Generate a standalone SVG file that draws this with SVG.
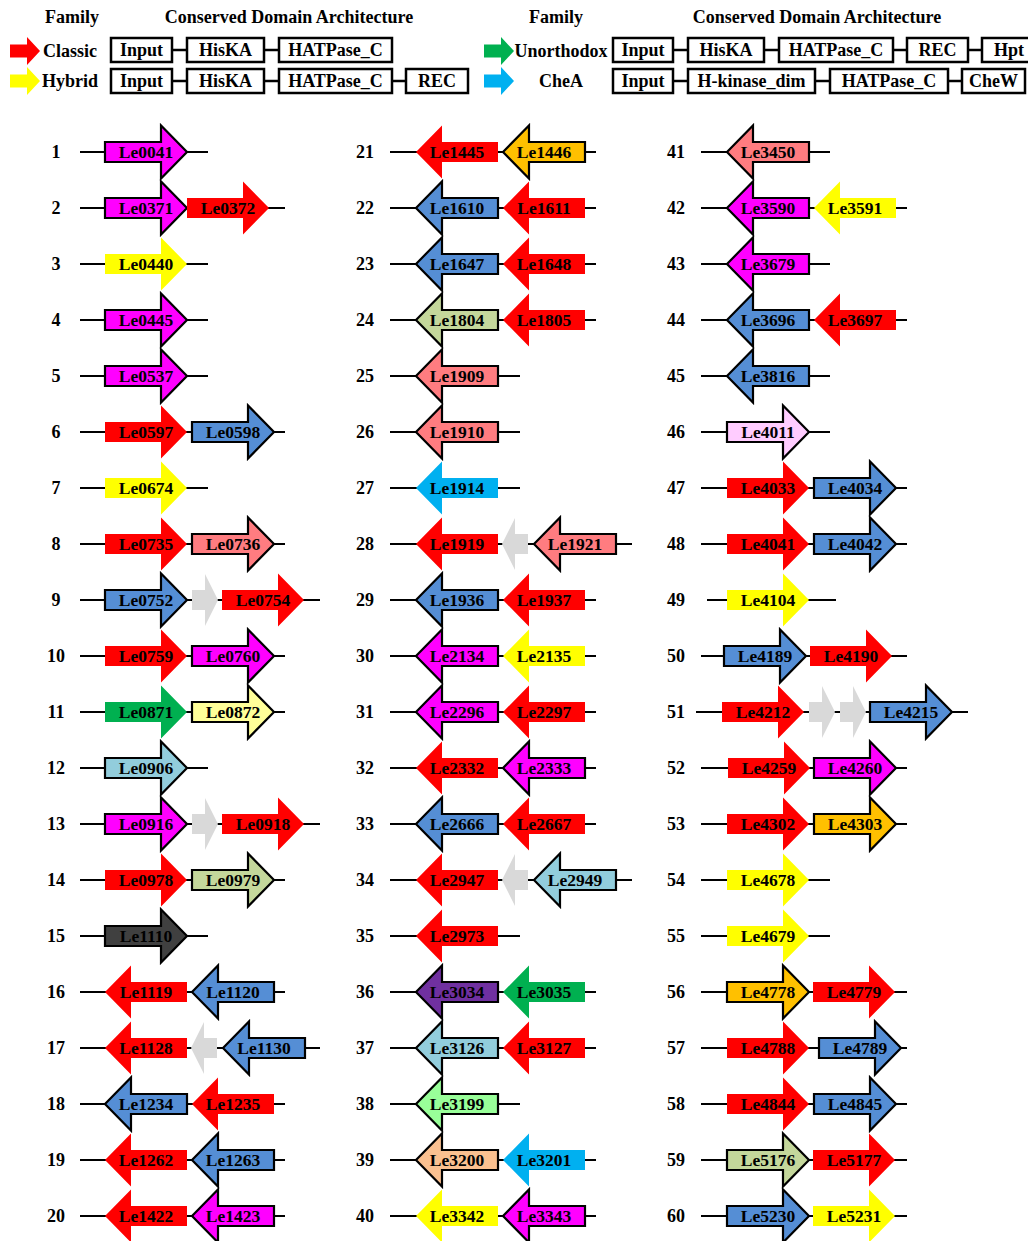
<svg xmlns="http://www.w3.org/2000/svg" xmlns:xlink="http://www.w3.org/1999/xlink" width="1028" height="1241" viewBox="0 0 1028 1241">
<style>
text{font-family:"Liberation Serif","Times New Roman",serif;font-weight:bold;fill:#000}
.h{font-size:18px;text-anchor:middle}
.n{font-size:18px;text-anchor:middle}
.l{font-size:17.5px;text-anchor:middle}
.bx{fill:#fff;stroke:#000;stroke-width:2.5}
.cn line{stroke:#000;stroke-width:2.2}
.s{stroke:#000;stroke-width:2.2;stroke-linejoin:miter}
.r{fill:#ff0000}.y{fill:#ffff00}.g{fill:#00b050}.c{fill:#00b0f0}.gy{fill:#d9d9d9}
.m{fill:#ff00ff}.b{fill:#558ed5}.sa{fill:#ff7c80}.ly{fill:#ffff99}.lb{fill:#92cddc}.ol{fill:#c4d79b}
.dk{fill:#404040}.or{fill:#ffc000}.pu{fill:#7030a0}.lg{fill:#99ff99}.pe{fill:#fac090}.pk{fill:#ffccff}
</style>
<defs>
<path id="ar" d="M0,-10 H56 V-26.5 L82,0 L56,26.5 V10 H0 Z"/>
<path id="al" d="M0,0 L26,-26.5 V-10 H82 V10 H26 V26.5 Z"/>
<path id="gr" d="M0,-10 H13 V-26 L26,0 L13,26 V10 H0 Z"/>
<path id="gl" d="M0,0 L13,-26 V-10 H26 V10 H13 V26 Z"/>
<path id="lg" d="M0,-6.5 H17 V-14 L30,0 L17,14 V6.5 H0 Z"/>
</defs>

<g id="legend">
<text class="h" x="72" y="23">Family</text>
<text class="h" x="289" y="23">Conserved Domain Architecture</text>
<text class="h" x="556" y="23">Family</text>
<text class="h" x="817" y="23">Conserved Domain Architecture</text>
<g id="leg-classic"><use href="#lg" x="10" y="51" class="r"/><text class="h" x="70" y="57">Classic</text></g>
<g id="leg-hybrid"><use href="#lg" x="10" y="81" class="y"/><text class="h" x="70" y="87">Hybrid</text></g>
<g id="leg-unorthodox"><use href="#lg" x="484" y="51" class="g"/><text class="h" x="561" y="57">Unorthodox</text></g>
<g id="leg-chea"><use href="#lg" x="484" y="81" class="c"/><text class="h" x="561" y="87">CheA</text></g>
<g id="arch-classic">
<line x1="172" y1="50" x2="187" y2="50" stroke="#000" stroke-width="2.5"/>
<line x1="264" y1="50" x2="279" y2="50" stroke="#000" stroke-width="2.5"/>
<rect class="bx" x="111" y="38" width="61" height="24"/><text class="h" x="141.5" y="56">Input</text>
<rect class="bx" x="187" y="38" width="77" height="24"/><text class="h" x="225.5" y="56">HisKA</text>
<rect class="bx" x="279" y="38" width="113" height="24"/><text class="h" x="335.5" y="56">HATPase_C</text>
</g>
<g id="arch-hybrid">
<line x1="172" y1="81" x2="187" y2="81" stroke="#000" stroke-width="2.5"/>
<line x1="264" y1="81" x2="279" y2="81" stroke="#000" stroke-width="2.5"/>
<line x1="392" y1="81" x2="406" y2="81" stroke="#000" stroke-width="2.5"/>
<rect class="bx" x="111" y="69" width="61" height="24"/><text class="h" x="141.5" y="87">Input</text>
<rect class="bx" x="187" y="69" width="77" height="24"/><text class="h" x="225.5" y="87">HisKA</text>
<rect class="bx" x="279" y="69" width="113" height="24"/><text class="h" x="335.5" y="87">HATPase_C</text>
<rect class="bx" x="406" y="69" width="62" height="24"/><text class="h" x="437" y="87">REC</text>
</g>
<g id="arch-unorthodox">
<line x1="673" y1="50" x2="688" y2="50" stroke="#000" stroke-width="2.5"/>
<line x1="764" y1="50" x2="779" y2="50" stroke="#000" stroke-width="2.5"/>
<line x1="893" y1="50" x2="907" y2="50" stroke="#000" stroke-width="2.5"/>
<line x1="968" y1="50" x2="982" y2="50" stroke="#000" stroke-width="2.5"/>
<rect class="bx" x="613" y="38" width="60" height="24"/><text class="h" x="643" y="56">Input</text>
<rect class="bx" x="688" y="38" width="76" height="24"/><text class="h" x="726" y="56">HisKA</text>
<rect class="bx" x="779" y="38" width="114" height="24"/><text class="h" x="836" y="56">HATPase_C</text>
<rect class="bx" x="907" y="38" width="61" height="24"/><text class="h" x="937.5" y="56">REC</text>
<rect class="bx" x="982" y="38" width="54" height="24"/><text class="h" x="1009" y="56">Hpt</text>
</g>
<g id="arch-chea">
<line x1="673" y1="81" x2="688" y2="81" stroke="#000" stroke-width="2.5"/>
<line x1="815" y1="81" x2="830" y2="81" stroke="#000" stroke-width="2.5"/>
<line x1="948" y1="81" x2="962" y2="81" stroke="#000" stroke-width="2.5"/>
<rect class="bx" x="613" y="69" width="60" height="24"/><text class="h" x="643" y="87">Input</text>
<rect class="bx" x="688" y="69" width="127" height="24"/><text class="h" x="751.5" y="87">H-kinase_dim</text>
<rect class="bx" x="830" y="69" width="118" height="24"/><text class="h" x="889" y="87">HATPase_C</text>
<rect class="bx" x="962" y="69" width="63" height="24"/><text class="h" x="993.5" y="87">CheW</text>
</g>
</g>

<g id="connectors" class="cn">
<line x1="80" y1="152" x2="208" y2="152"/>
<line x1="80" y1="208" x2="285" y2="208"/>
<line x1="80" y1="264" x2="208" y2="264"/>
<line x1="80" y1="320" x2="208" y2="320"/>
<line x1="80" y1="376" x2="208" y2="376"/>
<line x1="80" y1="432" x2="285" y2="432"/>
<line x1="80" y1="488" x2="208" y2="488"/>
<line x1="80" y1="544" x2="285" y2="544"/>
<line x1="80" y1="600" x2="320" y2="600"/>
<line x1="80" y1="656" x2="285" y2="656"/>
<line x1="80" y1="712" x2="285" y2="712"/>
<line x1="80" y1="768" x2="208" y2="768"/>
<line x1="80" y1="824" x2="320" y2="824"/>
<line x1="80" y1="880" x2="285" y2="880"/>
<line x1="80" y1="936" x2="208" y2="936"/>
<line x1="80" y1="992" x2="285" y2="992"/>
<line x1="80" y1="1048" x2="320" y2="1048"/>
<line x1="80" y1="1104" x2="285" y2="1104"/>
<line x1="80" y1="1160" x2="285" y2="1160"/>
<line x1="80" y1="1216" x2="285" y2="1216"/>
<line x1="390" y1="152" x2="596" y2="152"/>
<line x1="390" y1="208" x2="596" y2="208"/>
<line x1="390" y1="264" x2="596" y2="264"/>
<line x1="390" y1="320" x2="596" y2="320"/>
<line x1="390" y1="376" x2="520" y2="376"/>
<line x1="390" y1="432" x2="520" y2="432"/>
<line x1="390" y1="488" x2="520" y2="488"/>
<line x1="390" y1="544" x2="632" y2="544"/>
<line x1="390" y1="600" x2="596" y2="600"/>
<line x1="390" y1="656" x2="596" y2="656"/>
<line x1="390" y1="712" x2="596" y2="712"/>
<line x1="390" y1="768" x2="596" y2="768"/>
<line x1="390" y1="824" x2="596" y2="824"/>
<line x1="390" y1="880" x2="632" y2="880"/>
<line x1="390" y1="936" x2="520" y2="936"/>
<line x1="390" y1="992" x2="596" y2="992"/>
<line x1="390" y1="1048" x2="596" y2="1048"/>
<line x1="390" y1="1104" x2="520" y2="1104"/>
<line x1="390" y1="1160" x2="596" y2="1160"/>
<line x1="390" y1="1216" x2="596" y2="1216"/>
<line x1="701" y1="152" x2="830" y2="152"/>
<line x1="701" y1="208" x2="907" y2="208"/>
<line x1="701" y1="264" x2="830" y2="264"/>
<line x1="701" y1="320" x2="907" y2="320"/>
<line x1="701" y1="376" x2="830" y2="376"/>
<line x1="701" y1="432" x2="830" y2="432"/>
<line x1="701" y1="488" x2="907" y2="488"/>
<line x1="701" y1="544" x2="907" y2="544"/>
<line x1="707" y1="600" x2="836" y2="600"/>
<line x1="701" y1="656" x2="907" y2="656"/>
<line x1="696" y1="712" x2="968" y2="712"/>
<line x1="701" y1="768" x2="907" y2="768"/>
<line x1="701" y1="824" x2="907" y2="824"/>
<line x1="701" y1="880" x2="830" y2="880"/>
<line x1="701" y1="936" x2="830" y2="936"/>
<line x1="701" y1="992" x2="907" y2="992"/>
<line x1="701" y1="1048" x2="907" y2="1048"/>
<line x1="701" y1="1104" x2="907" y2="1104"/>
<line x1="701" y1="1160" x2="907" y2="1160"/>
<line x1="701" y1="1216" x2="907" y2="1216"/>
</g>

<g id="row-numbers">
<text class="n" x="56" y="158">1</text><text class="n" x="56" y="214">2</text><text class="n" x="56" y="270">3</text><text class="n" x="56" y="326">4</text><text class="n" x="56" y="382">5</text>
<text class="n" x="56" y="438">6</text><text class="n" x="56" y="494">7</text><text class="n" x="56" y="550">8</text><text class="n" x="56" y="606">9</text><text class="n" x="56" y="662">10</text>
<text class="n" x="56" y="718">11</text><text class="n" x="56" y="774">12</text><text class="n" x="56" y="830">13</text><text class="n" x="56" y="886">14</text><text class="n" x="56" y="942">15</text>
<text class="n" x="56" y="998">16</text><text class="n" x="56" y="1054">17</text><text class="n" x="56" y="1110">18</text><text class="n" x="56" y="1166">19</text><text class="n" x="56" y="1222">20</text>
<text class="n" x="365" y="158">21</text><text class="n" x="365" y="214">22</text><text class="n" x="365" y="270">23</text><text class="n" x="365" y="326">24</text><text class="n" x="365" y="382">25</text>
<text class="n" x="365" y="438">26</text><text class="n" x="365" y="494">27</text><text class="n" x="365" y="550">28</text><text class="n" x="365" y="606">29</text><text class="n" x="365" y="662">30</text>
<text class="n" x="365" y="718">31</text><text class="n" x="365" y="774">32</text><text class="n" x="365" y="830">33</text><text class="n" x="365" y="886">34</text><text class="n" x="365" y="942">35</text>
<text class="n" x="365" y="998">36</text><text class="n" x="365" y="1054">37</text><text class="n" x="365" y="1110">38</text><text class="n" x="365" y="1166">39</text><text class="n" x="365" y="1222">40</text>
<text class="n" x="676" y="158">41</text><text class="n" x="676" y="214">42</text><text class="n" x="676" y="270">43</text><text class="n" x="676" y="326">44</text><text class="n" x="676" y="382">45</text>
<text class="n" x="676" y="438">46</text><text class="n" x="676" y="494">47</text><text class="n" x="676" y="550">48</text><text class="n" x="676" y="606">49</text><text class="n" x="676" y="662">50</text>
<text class="n" x="676" y="718">51</text><text class="n" x="676" y="774">52</text><text class="n" x="676" y="830">53</text><text class="n" x="676" y="886">54</text><text class="n" x="676" y="942">55</text>
<text class="n" x="676" y="998">56</text><text class="n" x="676" y="1054">57</text><text class="n" x="676" y="1110">58</text><text class="n" x="676" y="1166">59</text><text class="n" x="676" y="1222">60</text>
</g>

<g id="genes">
<g id="Le0041"><use href="#ar" x="105" y="152" class="s m"/><text class="l" x="146" y="158">Le0041</text></g>
<g id="Le0371"><use href="#ar" x="105" y="208" class="s m"/><text class="l" x="146" y="214">Le0371</text></g>
<g id="Le0372"><use href="#ar" x="187" y="208" class="r"/><text class="l" x="228" y="214">Le0372</text></g>
<g id="Le0440"><use href="#ar" x="105" y="264" class="y"/><text class="l" x="146" y="270">Le0440</text></g>
<g id="Le0445"><use href="#ar" x="105" y="320" class="s m"/><text class="l" x="146" y="326">Le0445</text></g>
<g id="Le0537"><use href="#ar" x="105" y="376" class="s m"/><text class="l" x="146" y="382">Le0537</text></g>
<g id="Le0597"><use href="#ar" x="105" y="432" class="r"/><text class="l" x="146" y="438">Le0597</text></g>
<g id="Le0598"><use href="#ar" x="192" y="432" class="s b"/><text class="l" x="233" y="438">Le0598</text></g>
<g id="Le0674"><use href="#ar" x="105" y="488" class="y"/><text class="l" x="146" y="494">Le0674</text></g>
<g id="Le0735"><use href="#ar" x="105" y="544" class="r"/><text class="l" x="146" y="550">Le0735</text></g>
<g id="Le0736"><use href="#ar" x="192" y="544" class="s sa"/><text class="l" x="233" y="550">Le0736</text></g>
<g id="Le0752"><use href="#ar" x="105" y="600" class="s b"/><text class="l" x="146" y="606">Le0752</text></g>
<g id="g9a"><use href="#gr" x="192" y="600" class="gy"/></g>
<g id="Le0754"><use href="#ar" x="222" y="600" class="r"/><text class="l" x="263" y="606">Le0754</text></g>
<g id="Le0759"><use href="#ar" x="105" y="656" class="r"/><text class="l" x="146" y="662">Le0759</text></g>
<g id="Le0760"><use href="#ar" x="192" y="656" class="s m"/><text class="l" x="233" y="662">Le0760</text></g>
<g id="Le0871"><use href="#ar" x="105" y="712" class="g"/><text class="l" x="146" y="718">Le0871</text></g>
<g id="Le0872"><use href="#ar" x="192" y="712" class="s ly"/><text class="l" x="233" y="718">Le0872</text></g>
<g id="Le0906"><use href="#ar" x="105" y="768" class="s lb"/><text class="l" x="146" y="774">Le0906</text></g>
<g id="Le0916"><use href="#ar" x="105" y="824" class="s m"/><text class="l" x="146" y="830">Le0916</text></g>
<g id="g13a"><use href="#gr" x="192" y="824" class="gy"/></g>
<g id="Le0918"><use href="#ar" x="222" y="824" class="r"/><text class="l" x="263" y="830">Le0918</text></g>
<g id="Le0978"><use href="#ar" x="105" y="880" class="r"/><text class="l" x="146" y="886">Le0978</text></g>
<g id="Le0979"><use href="#ar" x="192" y="880" class="s ol"/><text class="l" x="233" y="886">Le0979</text></g>
<g id="Le1110"><use href="#ar" x="105" y="936" class="s dk"/><text class="l" x="146" y="942">Le1110</text></g>
<g id="Le1119"><use href="#al" x="105" y="992" class="r"/><text class="l" x="146" y="998">Le1119</text></g>
<g id="Le1120"><use href="#al" x="192" y="992" class="s b"/><text class="l" x="233" y="998">Le1120</text></g>
<g id="Le1128"><use href="#al" x="105" y="1048" class="r"/><text class="l" x="146" y="1054">Le1128</text></g>
<g id="g17a"><use href="#gl" x="191" y="1048" class="gy"/></g>
<g id="Le1130"><use href="#al" x="223" y="1048" class="s b"/><text class="l" x="264" y="1054">Le1130</text></g>
<g id="Le1234"><use href="#al" x="105" y="1104" class="s b"/><text class="l" x="146" y="1110">Le1234</text></g>
<g id="Le1235"><use href="#al" x="192" y="1104" class="r"/><text class="l" x="233" y="1110">Le1235</text></g>
<g id="Le1262"><use href="#al" x="105" y="1160" class="r"/><text class="l" x="146" y="1166">Le1262</text></g>
<g id="Le1263"><use href="#al" x="192" y="1160" class="s b"/><text class="l" x="233" y="1166">Le1263</text></g>
<g id="Le1422"><use href="#al" x="105" y="1216" class="r"/><text class="l" x="146" y="1222">Le1422</text></g>
<g id="Le1423"><use href="#al" x="192" y="1216" class="s m"/><text class="l" x="233" y="1222">Le1423</text></g>

<g id="Le1445"><use href="#al" x="416" y="152" class="r"/><text class="l" x="457" y="158">Le1445</text></g>
<g id="Le1446"><use href="#al" x="503" y="152" class="s or"/><text class="l" x="544" y="158">Le1446</text></g>
<g id="Le1610"><use href="#al" x="416" y="208" class="s b"/><text class="l" x="457" y="214">Le1610</text></g>
<g id="Le1611"><use href="#al" x="503" y="208" class="r"/><text class="l" x="544" y="214">Le1611</text></g>
<g id="Le1647"><use href="#al" x="416" y="264" class="s b"/><text class="l" x="457" y="270">Le1647</text></g>
<g id="Le1648"><use href="#al" x="503" y="264" class="r"/><text class="l" x="544" y="270">Le1648</text></g>
<g id="Le1804"><use href="#al" x="416" y="320" class="s ol"/><text class="l" x="457" y="326">Le1804</text></g>
<g id="Le1805"><use href="#al" x="503" y="320" class="r"/><text class="l" x="544" y="326">Le1805</text></g>
<g id="Le1909"><use href="#al" x="416" y="376" class="s sa"/><text class="l" x="457" y="382">Le1909</text></g>
<g id="Le1910"><use href="#al" x="416" y="432" class="s sa"/><text class="l" x="457" y="438">Le1910</text></g>
<g id="Le1914"><use href="#al" x="416" y="488" class="c"/><text class="l" x="457" y="494">Le1914</text></g>
<g id="Le1919"><use href="#al" x="416" y="544" class="r"/><text class="l" x="457" y="550">Le1919</text></g>
<g id="g28a"><use href="#gl" x="502" y="544" class="gy"/></g>
<g id="Le1921"><use href="#al" x="534" y="544" class="s sa"/><text class="l" x="575" y="550">Le1921</text></g>
<g id="Le1936"><use href="#al" x="416" y="600" class="s b"/><text class="l" x="457" y="606">Le1936</text></g>
<g id="Le1937"><use href="#al" x="503" y="600" class="r"/><text class="l" x="544" y="606">Le1937</text></g>
<g id="Le2134"><use href="#al" x="416" y="656" class="s m"/><text class="l" x="457" y="662">Le2134</text></g>
<g id="Le2135"><use href="#al" x="503" y="656" class="y"/><text class="l" x="544" y="662">Le2135</text></g>
<g id="Le2296"><use href="#al" x="416" y="712" class="s m"/><text class="l" x="457" y="718">Le2296</text></g>
<g id="Le2297"><use href="#al" x="503" y="712" class="r"/><text class="l" x="544" y="718">Le2297</text></g>
<g id="Le2332"><use href="#al" x="416" y="768" class="r"/><text class="l" x="457" y="774">Le2332</text></g>
<g id="Le2333"><use href="#al" x="503" y="768" class="s m"/><text class="l" x="544" y="774">Le2333</text></g>
<g id="Le2666"><use href="#al" x="416" y="824" class="s b"/><text class="l" x="457" y="830">Le2666</text></g>
<g id="Le2667"><use href="#al" x="503" y="824" class="r"/><text class="l" x="544" y="830">Le2667</text></g>
<g id="Le2947"><use href="#al" x="416" y="880" class="r"/><text class="l" x="457" y="886">Le2947</text></g>
<g id="g34a"><use href="#gl" x="502" y="880" class="gy"/></g>
<g id="Le2949"><use href="#al" x="534" y="880" class="s lb"/><text class="l" x="575" y="886">Le2949</text></g>
<g id="Le2973"><use href="#al" x="416" y="936" class="r"/><text class="l" x="457" y="942">Le2973</text></g>
<g id="Le3034"><use href="#al" x="416" y="992" class="s pu"/><text class="l" x="457" y="998">Le3034</text></g>
<g id="Le3035"><use href="#al" x="503" y="992" class="g"/><text class="l" x="544" y="998">Le3035</text></g>
<g id="Le3126"><use href="#al" x="416" y="1048" class="s lb"/><text class="l" x="457" y="1054">Le3126</text></g>
<g id="Le3127"><use href="#al" x="503" y="1048" class="r"/><text class="l" x="544" y="1054">Le3127</text></g>
<g id="Le3199"><use href="#al" x="416" y="1104" class="s lg"/><text class="l" x="457" y="1110">Le3199</text></g>
<g id="Le3200"><use href="#al" x="416" y="1160" class="s pe"/><text class="l" x="457" y="1166">Le3200</text></g>
<g id="Le3201"><use href="#al" x="503" y="1160" class="c"/><text class="l" x="544" y="1166">Le3201</text></g>
<g id="Le3342"><use href="#al" x="416" y="1216" class="y"/><text class="l" x="457" y="1222">Le3342</text></g>
<g id="Le3343"><use href="#al" x="503" y="1216" class="s m"/><text class="l" x="544" y="1222">Le3343</text></g>

<g id="Le3450"><use href="#al" x="727" y="152" class="s sa"/><text class="l" x="768" y="158">Le3450</text></g>
<g id="Le3590"><use href="#al" x="727" y="208" class="s m"/><text class="l" x="768" y="214">Le3590</text></g>
<g id="Le3591"><use href="#al" x="814" y="208" class="y"/><text class="l" x="855" y="214">Le3591</text></g>
<g id="Le3679"><use href="#al" x="727" y="264" class="s m"/><text class="l" x="768" y="270">Le3679</text></g>
<g id="Le3696"><use href="#al" x="727" y="320" class="s b"/><text class="l" x="768" y="326">Le3696</text></g>
<g id="Le3697"><use href="#al" x="814" y="320" class="r"/><text class="l" x="855" y="326">Le3697</text></g>
<g id="Le3816"><use href="#al" x="727" y="376" class="s b"/><text class="l" x="768" y="382">Le3816</text></g>
<g id="Le4011"><use href="#ar" x="727" y="432" class="s pk"/><text class="l" x="768" y="438">Le4011</text></g>
<g id="Le4033"><use href="#ar" x="727" y="488" class="r"/><text class="l" x="768" y="494">Le4033</text></g>
<g id="Le4034"><use href="#ar" x="814" y="488" class="s b"/><text class="l" x="855" y="494">Le4034</text></g>
<g id="Le4041"><use href="#ar" x="727" y="544" class="r"/><text class="l" x="768" y="550">Le4041</text></g>
<g id="Le4042"><use href="#ar" x="814" y="544" class="s b"/><text class="l" x="855" y="550">Le4042</text></g>
<g id="Le4104"><use href="#ar" x="727" y="600" class="y"/><text class="l" x="768" y="606">Le4104</text></g>
<g id="Le4189"><use href="#ar" x="724" y="656" class="s b"/><text class="l" x="765" y="662">Le4189</text></g>
<g id="Le4190"><use href="#ar" x="810" y="656" class="r"/><text class="l" x="851" y="662">Le4190</text></g>
<g id="Le4212"><use href="#ar" x="722" y="712" class="r"/><text class="l" x="763" y="718">Le4212</text></g>
<g id="g51a"><use href="#gr" x="809" y="712" class="gy"/></g>
<g id="g51b"><use href="#gr" x="840" y="712" class="gy"/></g>
<g id="Le4215"><use href="#ar" x="870" y="712" class="s b"/><text class="l" x="911" y="718">Le4215</text></g>
<g id="Le4259"><use href="#ar" x="728" y="768" class="r"/><text class="l" x="769" y="774">Le4259</text></g>
<g id="Le4260"><use href="#ar" x="814" y="768" class="s m"/><text class="l" x="855" y="774">Le4260</text></g>
<g id="Le4302"><use href="#ar" x="727" y="824" class="r"/><text class="l" x="768" y="830">Le4302</text></g>
<g id="Le4303"><use href="#ar" x="814" y="824" class="s or"/><text class="l" x="855" y="830">Le4303</text></g>
<g id="Le4678"><use href="#ar" x="727" y="880" class="y"/><text class="l" x="768" y="886">Le4678</text></g>
<g id="Le4679"><use href="#ar" x="727" y="936" class="y"/><text class="l" x="768" y="942">Le4679</text></g>
<g id="Le4778"><use href="#ar" x="727" y="992" class="s or"/><text class="l" x="768" y="998">Le4778</text></g>
<g id="Le4779"><use href="#ar" x="813" y="992" class="r"/><text class="l" x="854" y="998">Le4779</text></g>
<g id="Le4788"><use href="#ar" x="727" y="1048" class="r"/><text class="l" x="768" y="1054">Le4788</text></g>
<g id="Le4789"><use href="#ar" x="819" y="1048" class="s b"/><text class="l" x="860" y="1054">Le4789</text></g>
<g id="Le4844"><use href="#ar" x="727" y="1104" class="r"/><text class="l" x="768" y="1110">Le4844</text></g>
<g id="Le4845"><use href="#ar" x="814" y="1104" class="s b"/><text class="l" x="855" y="1110">Le4845</text></g>
<g id="Le5176"><use href="#ar" x="727" y="1160" class="s ol"/><text class="l" x="768" y="1166">Le5176</text></g>
<g id="Le5177"><use href="#ar" x="813" y="1160" class="r"/><text class="l" x="854" y="1166">Le5177</text></g>
<g id="Le5230"><use href="#ar" x="727" y="1216" class="s b"/><text class="l" x="768" y="1222">Le5230</text></g>
<g id="Le5231"><use href="#ar" x="813" y="1216" class="y"/><text class="l" x="854" y="1222">Le5231</text></g>
</g>
</svg>
